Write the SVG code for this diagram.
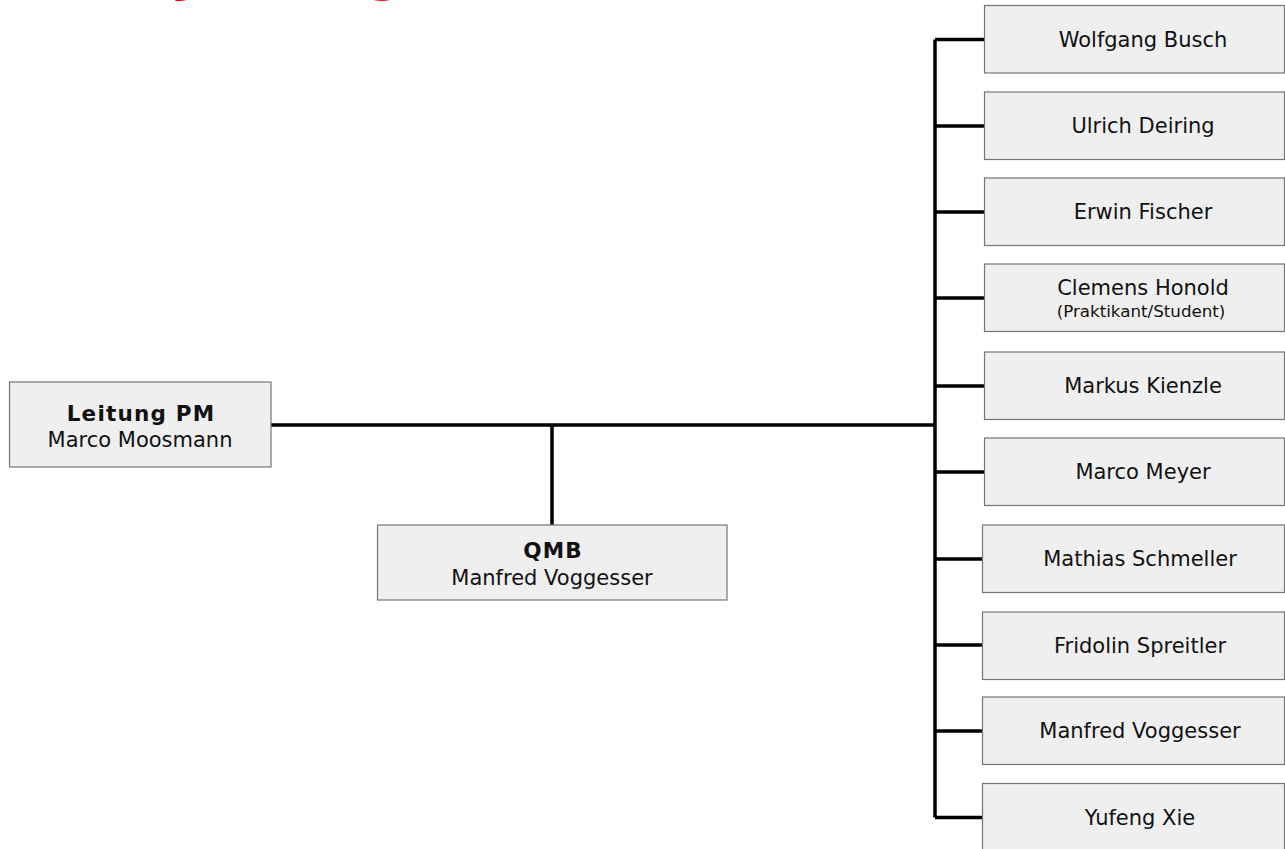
<svg xmlns="http://www.w3.org/2000/svg" width="1285" height="849" viewBox="0 0 1285 849">
<style>
.box{fill:#efefef;stroke:#767676;stroke-width:1.2}
.t{font-family:"DejaVu Sans","Verdana",sans-serif;font-size:21px;fill:#111;text-anchor:middle}
.b{font-weight:bold;letter-spacing:1.2px;font-size:21.5px}
.s{font-size:16.7px}
.ln{stroke:#000;stroke-width:3.5;fill:none}
.title{font-family:"DejaVu Sans",sans-serif;font-weight:bold;font-size:56px;fill:#ff0000}
</style>
<rect width="1285" height="849" fill="#fff"/>
<text class="title" x="70" y="-11">Projektorganisation</text>
<g id="connectors">
<path class="ln" d="M271 425H935M552 425V525M935 39.5V817.5"/>
<path class="ln" d="M935 39.5H984M935 126H984M935 212H984M935 298H984M935 386H984M935 472H984M935 559H982M935 645H982M935 731H982M935 817.5H982"/>
</g>
<g id="leitung"><rect class="box" x="9.5" y="382" width="261.5" height="85"/><text class="t b" x="141" y="421">Leitung PM</text><text class="t" x="140" y="447">Marco Moosmann</text></g>
<g id="qmb"><rect class="box" x="377.5" y="525" width="349.5" height="75"/><text class="t b" x="553" y="558">QMB</text><text class="t" x="552" y="585">Manfred Voggesser</text></g>
<g id="busch"><rect class="box" x="984.5" y="5.5" width="300" height="67.5"/><text class="t" x="1143" y="47">Wolfgang Busch</text></g>
<g id="deiring"><rect class="box" x="984.5" y="92" width="300" height="67.5"/><text class="t" x="1143" y="133">Ulrich Deiring</text></g>
<g id="fischer"><rect class="box" x="984.5" y="178" width="300" height="67.5"/><text class="t" x="1143" y="219">Erwin Fischer</text></g>
<g id="honold"><rect class="box" x="984.5" y="264" width="300" height="67.5"/><text class="t" x="1143" y="295">Clemens Honold</text><text class="t s" x="1141" y="317">(Praktikant/Student)</text></g>
<g id="kienzle"><rect class="box" x="984.5" y="352" width="300" height="67.5"/><text class="t" x="1143" y="393">Markus Kienzle</text></g>
<g id="meyer"><rect class="box" x="984.5" y="438" width="300" height="67.5"/><text class="t" x="1143" y="479">Marco Meyer</text></g>
<g id="schmeller"><rect class="box" x="982.5" y="525" width="302" height="67.5"/><text class="t" x="1140" y="566">Mathias Schmeller</text></g>
<g id="spreitler"><rect class="box" x="982.5" y="612" width="302" height="67.5"/><text class="t" x="1140" y="653">Fridolin Spreitler</text></g>
<g id="voggesser"><rect class="box" x="982.5" y="697" width="302" height="67.5"/><text class="t" x="1140" y="738">Manfred Voggesser</text></g>
<g id="xie"><rect class="box" x="982.5" y="783.5" width="302" height="80"/><text class="t" x="1140" y="825">Yufeng Xie</text></g>
</svg>
